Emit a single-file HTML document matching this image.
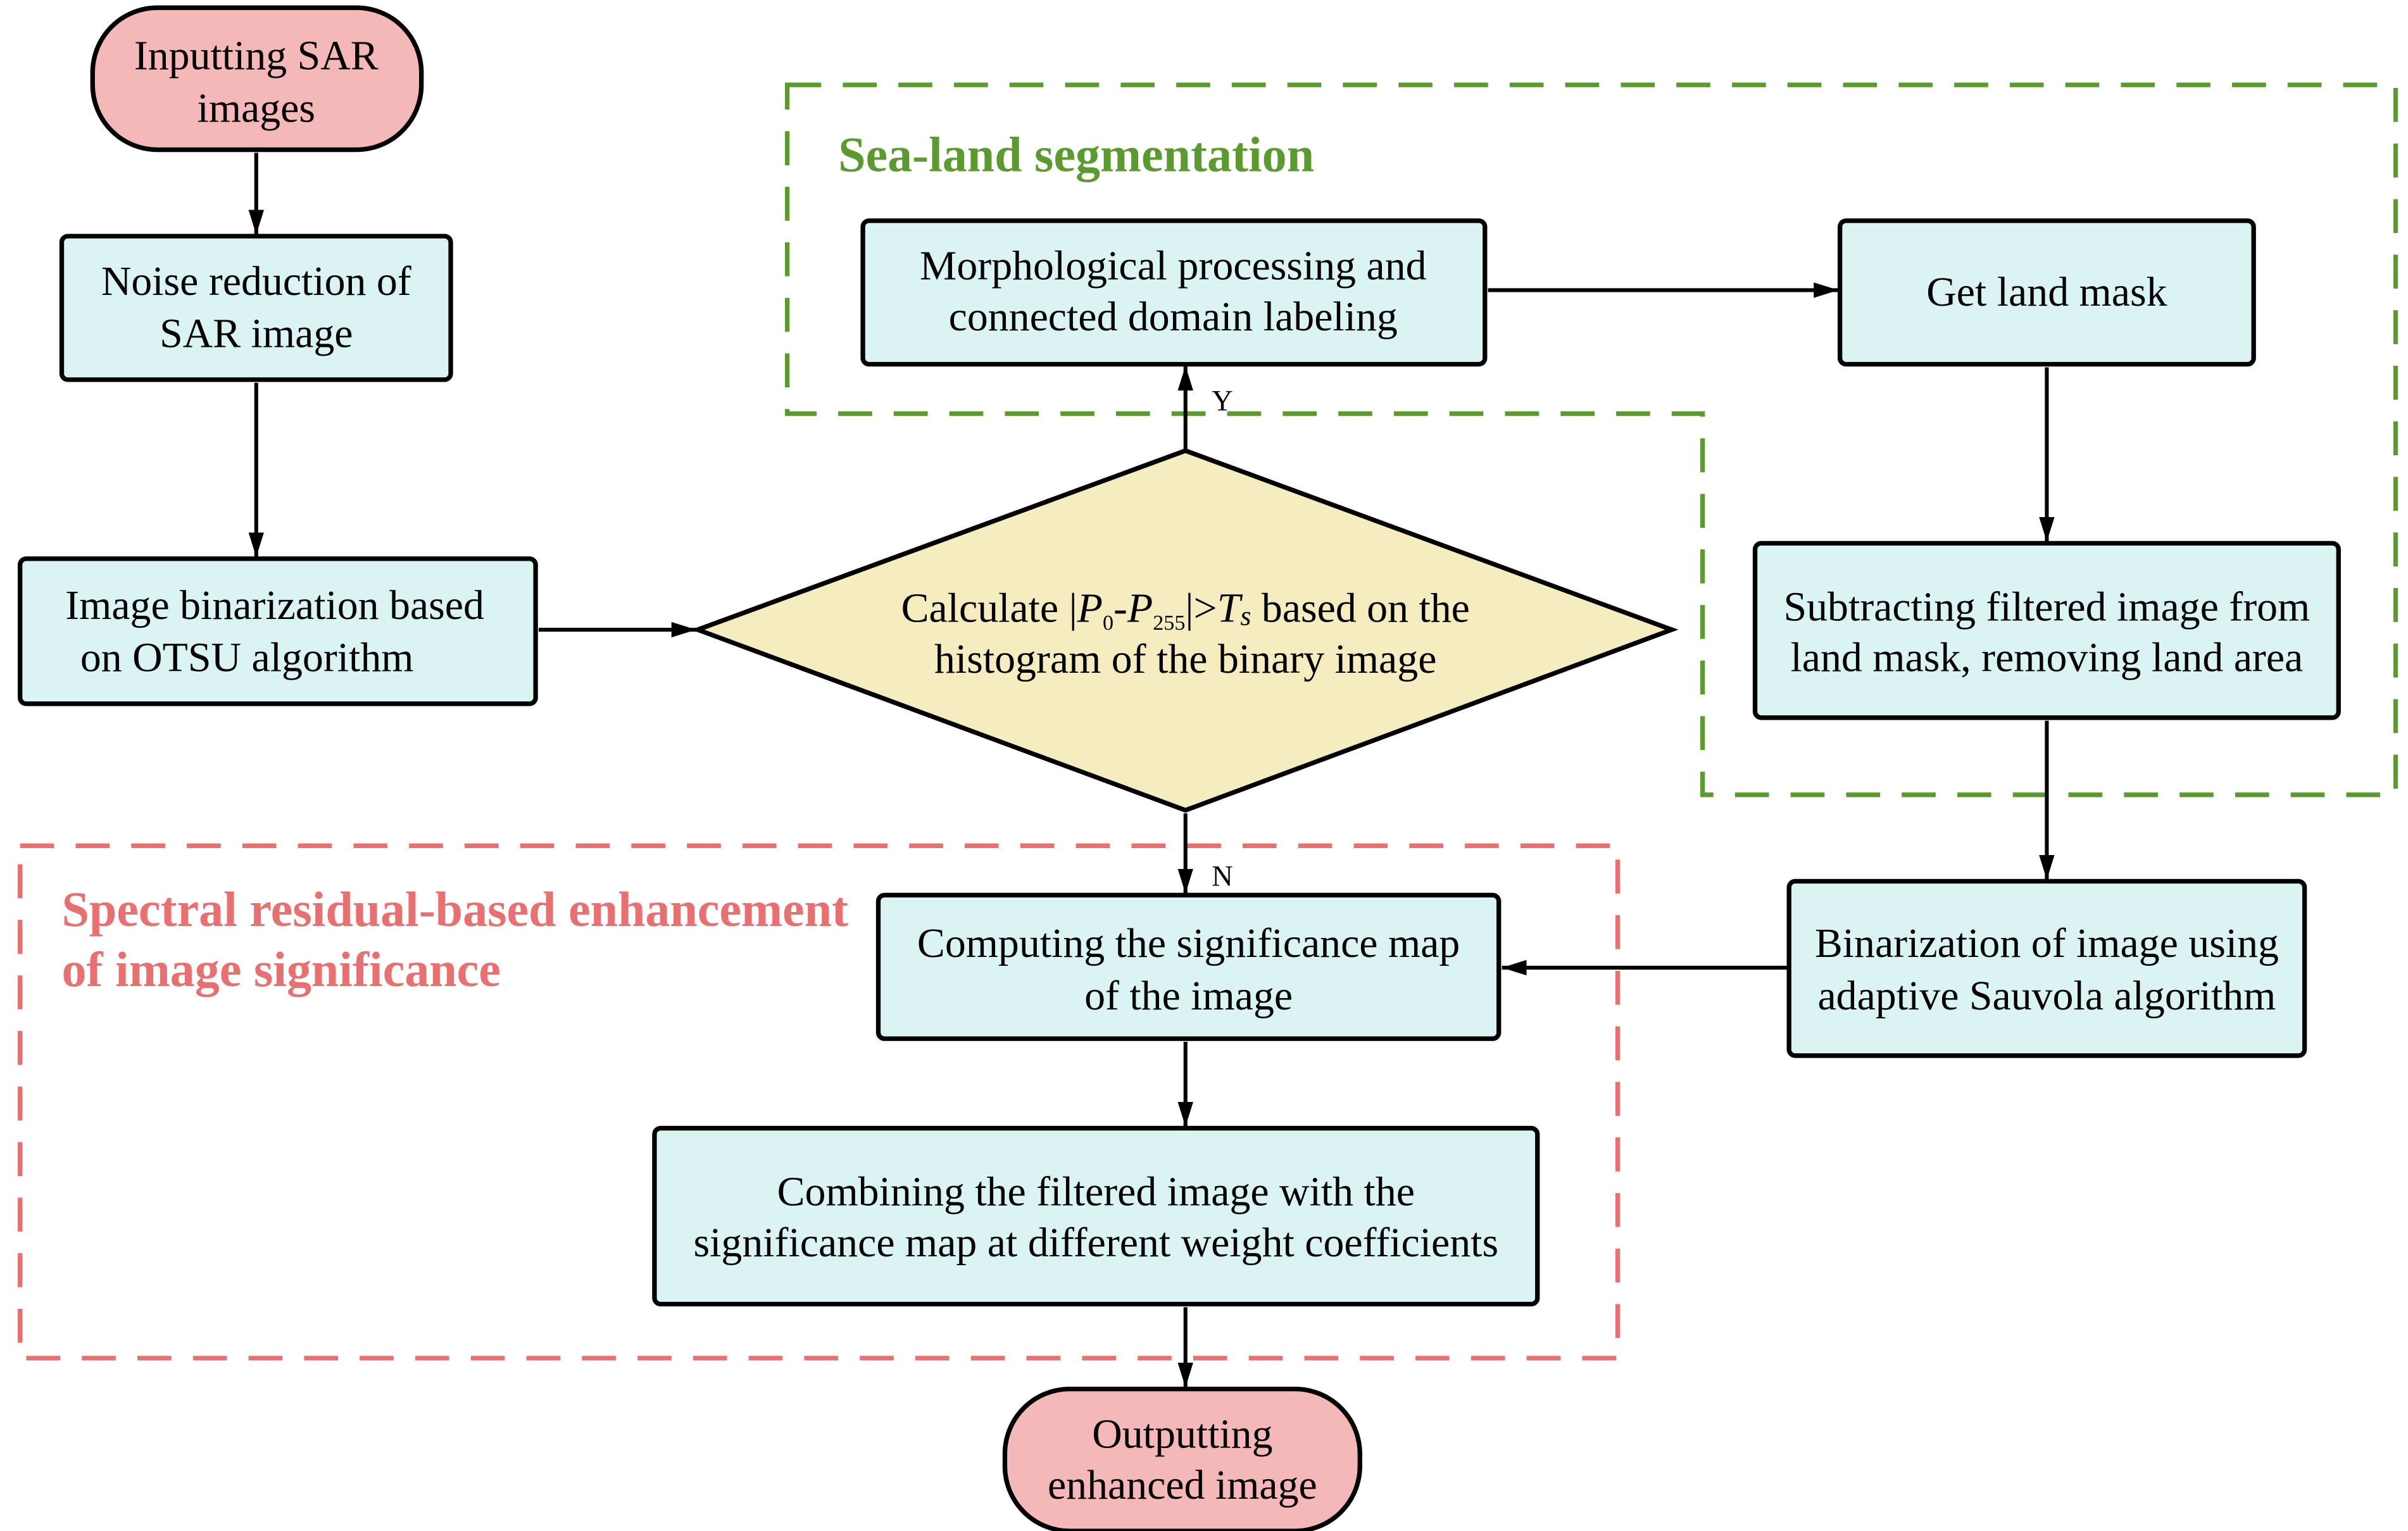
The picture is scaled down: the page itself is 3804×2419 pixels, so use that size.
<!DOCTYPE html>
<html><head><meta charset="utf-8"><style>html,body{margin:0;padding:0;background:#fff}svg{display:block}text{font-family:"Liberation Serif","Times New Roman",serif}</style></head>
<body>
<svg width="3804" height="2419" viewBox="0 0 1560 992" xmlns="http://www.w3.org/2000/svg">
<defs>
<marker id="b" viewBox="0 0 16 10" markerWidth="16" markerHeight="10" refX="16" refY="5" orient="auto" markerUnits="userSpaceOnUse"><path d="M0,0 L16,5 L0,10z" fill="#000"/></marker></defs>
<path d="M510,55 L1552,55 L1552,515 L1103,515 L1103,268 L510,268 Z" fill="none" stroke="#5a9a2e" stroke-width="3" stroke-dasharray="22,14"/>
<rect x="13" y="548" width="1035" height="332" fill="none" stroke="#e87070" stroke-width="3" stroke-dasharray="22,14"/>
<text x="543" y="111" font-size="32" font-weight="bold" fill="#5a9a2e">Sea-land segmentation</text>
<text x="40" y="600" font-size="32" font-weight="bold" fill="#e87070">Spectral residual-based enhancement</text>
<text x="40" y="639" font-size="32" font-weight="bold" fill="#e87070">of image significance</text>
<g stroke="#000" stroke-width="3">
<rect x="60" y="5" width="213" height="92" rx="42" fill="#f4b8b8"/>
<rect x="651" y="900" width="230" height="92" rx="42" fill="#f4b8b8"/>
<rect x="40" y="153" width="252" height="93" rx="4" fill="#daf3f3"/>
<rect x="13" y="362" width="334" height="94" rx="4" fill="#daf3f3"/>
<rect x="559" y="143" width="403" height="93" rx="4" fill="#daf3f3"/>
<rect x="1192" y="143" width="268" height="93" rx="4" fill="#daf3f3"/>
<rect x="1137" y="352" width="378" height="113" rx="4" fill="#daf3f3"/>
<rect x="1159" y="571" width="334" height="113" rx="4" fill="#daf3f3"/>
<rect x="569" y="580" width="402" height="93" rx="4" fill="#daf3f3"/>
<rect x="424" y="731" width="572" height="114" rx="4" fill="#daf3f3"/>
<path d="M452,408 L768,292 L1083,408 L768,525 Z" fill="#f5ecbf"/>
</g>
<g stroke="#000" stroke-width="2.5" fill="none" marker-end="url(#b)">
<path d="M166,99 V152"/><path d="M166,248 V361"/><path d="M349,408 H451"/>
<path d="M768,292 V237"/><path d="M964,188 H1191"/><path d="M1326,238 V351"/>
<path d="M1326,467 V570"/><path d="M1159,627 H973"/><path d="M768,527 V579"/>
<path d="M768,675 V730"/><path d="M768,847 V899"/>
</g>
<g font-size="27" text-anchor="middle" fill="#000">
<text x="166" y="45">Inputting SAR</text><text x="166" y="79">images</text>
<text x="166" y="191">Noise reduction of</text><text x="166" y="225">SAR image</text>
<text x="178" y="401">Image binarization based</text><text x="160" y="435">on OTSU algorithm</text>
<text x="760" y="181">Morphological processing and</text><text x="760" y="214">connected domain labeling</text>
<text x="1326" y="198">Get land mask</text>
<text x="1326" y="402">Subtracting filtered image from</text><text x="1326" y="435">land mask, removing land area</text>
<text x="1326" y="620">Binarization of image using</text><text x="1326" y="654">adaptive Sauvola algorithm</text>
<text x="770" y="620">Computing the significance map</text><text x="770" y="654">of the image</text>
<text x="710" y="781">Combining the filtered image with the</text><text x="710" y="814">significance map at different weight coefficients</text>
<text x="766" y="938">Outputting</text><text x="766" y="971">enhanced image</text>
<text x="768" y="403">Calculate |<tspan font-style="italic">P</tspan><tspan font-size="14" dy="5">0</tspan><tspan dy="-5">-</tspan><tspan font-style="italic">P</tspan><tspan font-size="14" dy="5">255</tspan><tspan dy="-5">|&gt;</tspan><tspan font-style="italic">T</tspan><tspan font-style="italic" font-size="18" dy="2">s</tspan><tspan dy="-2"> based on the</tspan></text>
<text x="768" y="436">histogram of the binary image</text>
</g>
<text x="785" y="266" font-size="19">Y</text>
<text x="785" y="574" font-size="19">N</text>
</svg>
</body></html>
